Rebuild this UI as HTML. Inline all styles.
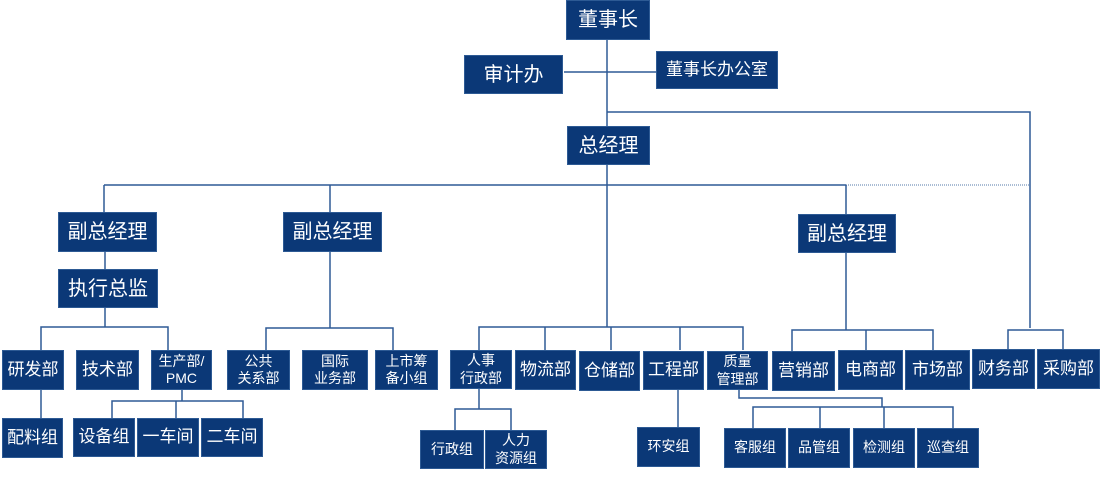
<!DOCTYPE html>
<html><head><meta charset="utf-8"><style>
html,body{margin:0;padding:0;background:#fff;}
body{width:1100px;height:481px;position:relative;overflow:hidden;font-family:"Liberation Sans","Noto Sans CJK SC",sans-serif;}
.b{position:absolute;background:#0b3877;color:#fff;display:flex;align-items:center;justify-content:center;text-align:center;box-sizing:border-box;border:1px solid #2d5a94;font-size:17px;line-height:1.2;}
.s{font-size:14px;line-height:1.25;}
.l{font-size:20px;}
svg{position:absolute;left:0;top:0;}
</style></head><body>
<svg width="1100" height="481">
<g stroke="#2f5a96" stroke-width="1.5" fill="none">
<line x1="607" y1="40" x2="607" y2="126"/>
<line x1="564" y1="72" x2="656" y2="72"/>
<polyline points="607,112 1030,112 1030,328"/>
<line x1="607" y1="165" x2="607" y2="327"/>
<line x1="104" y1="185" x2="846" y2="185"/>
<line x1="846" y1="185" x2="1030" y2="185" stroke-dasharray="1,1" stroke="#8da6c6"/>
<line x1="104" y1="185" x2="104" y2="212"/>
<line x1="330" y1="185" x2="330" y2="212"/>
<line x1="846" y1="185" x2="846" y2="214"/>
<line x1="105" y1="252" x2="105" y2="269"/>
<line x1="105" y1="308" x2="105" y2="327"/>
<polyline points="41,350 41,327 168,327 168,350"/>
<line x1="330" y1="252" x2="330" y2="328"/>
<polyline points="266,350 266,328 393,328 393,350"/>
<polyline points="479,350 479,327 743,327 743,350"/>
<line x1="545" y1="327" x2="545" y2="350"/>
<line x1="611" y1="327" x2="611" y2="350"/>
<line x1="680" y1="327" x2="680" y2="350"/>
<line x1="846" y1="253" x2="846" y2="330"/>
<polyline points="792,351 792,330 933,330 933,351"/>
<line x1="866" y1="330" x2="866" y2="351"/>
<polyline points="1008,351 1008,330 1063,330 1063,351"/>
<line x1="41" y1="390" x2="41" y2="418"/>
<line x1="182" y1="390" x2="182" y2="401"/>
<polyline points="112,418 112,401 243,401 243,418"/>
<line x1="176" y1="401" x2="176" y2="418"/>
<line x1="479" y1="389" x2="479" y2="409"/>
<polyline points="455,430 455,409 511,409 511,430"/>
<line x1="678" y1="390" x2="678" y2="427"/>
<polyline points="739,390 739,398 882,398 882,407"/>
<polyline points="753,428 753,407 953,407 953,428"/>
<line x1="820" y1="407" x2="820" y2="428"/>
<line x1="884" y1="407" x2="884" y2="428"/>
</g></svg>
<div class="b l" style="left:566px;top:0;width:84px;height:40px">董事长</div>
<div class="b l" style="left:464px;top:55px;width:99px;height:39px">审计办</div>
<div class="b" style="left:656px;top:51px;width:122px;height:38px">董事长办公室</div>
<div class="b l" style="left:567px;top:126px;width:83px;height:39px">总经理</div>
<div class="b l" style="left:58px;top:212px;width:99px;height:40px">副总经理</div>
<div class="b l" style="left:283px;top:212px;width:99px;height:40px">副总经理</div>
<div class="b l" style="left:798px;top:214px;width:98px;height:39px">副总经理</div>
<div class="b l" style="left:58px;top:269px;width:100px;height:39px">执行总监</div>
<div class="b" style="left:2px;top:350px;width:62px;height:40px">研发部</div>
<div class="b" style="left:76px;top:350px;width:63px;height:40px">技术部</div>
<div class="b s" style="left:151px;top:350px;width:61px;height:40px">生产部/<br>PMC</div>
<div class="b s" style="left:227px;top:350px;width:63px;height:40px">公共<br>关系部</div>
<div class="b s" style="left:302px;top:350px;width:66px;height:40px">国际<br>业务部</div>
<div class="b s" style="left:375px;top:350px;width:63px;height:40px">上市筹<br>备小组</div>
<div class="b s" style="left:450px;top:350px;width:62px;height:39px">人事<br>行政部</div>
<div class="b" style="left:515px;top:350px;width:61px;height:40px">物流部</div>
<div class="b" style="left:579px;top:351px;width:61px;height:40px">仓储部</div>
<div class="b" style="left:643px;top:351px;width:61px;height:39px">工程部</div>
<div class="b s" style="left:707px;top:351px;width:61px;height:39px">质量<br>管理部</div>
<div class="b" style="left:772px;top:351px;width:63px;height:40px">营销部</div>
<div class="b" style="left:838px;top:350px;width:65px;height:40px">电商部</div>
<div class="b" style="left:905px;top:350px;width:65px;height:40px">市场部</div>
<div class="b" style="left:972px;top:349px;width:63px;height:40px">财务部</div>
<div class="b" style="left:1037px;top:349px;width:63px;height:40px">采购部</div>
<div class="b" style="left:2px;top:418px;width:61px;height:40px">配料组</div>
<div class="b" style="left:73px;top:418px;width:62px;height:39px">设备组</div>
<div class="b" style="left:137px;top:418px;width:62px;height:39px">一车间</div>
<div class="b" style="left:201px;top:418px;width:62px;height:39px">二车间</div>
<div class="b s" style="left:420px;top:430px;width:64px;height:39px">行政组</div>
<div class="b s" style="left:485px;top:430px;width:62px;height:39px">人力<br>资源组</div>
<div class="b s" style="left:637px;top:427px;width:63px;height:40px">环安组</div>
<div class="b s" style="left:724px;top:428px;width:62px;height:40px">客服组</div>
<div class="b s" style="left:788px;top:428px;width:62px;height:40px">品管组</div>
<div class="b s" style="left:853px;top:428px;width:62px;height:40px">检测组</div>
<div class="b s" style="left:917px;top:428px;width:62px;height:40px">巡查组</div>
</body></html>
